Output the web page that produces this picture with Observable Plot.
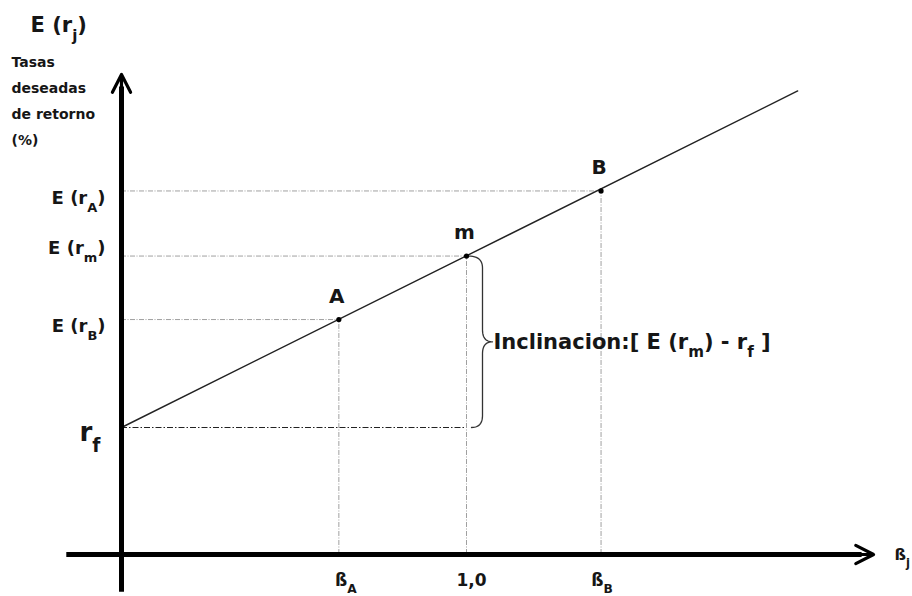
<!DOCTYPE html>
<html><head><meta charset="utf-8">
<script src="https://cdn.jsdelivr.net/npm/d3@7"></script>
<script src="https://cdn.jsdelivr.net/npm/@observablehq/plot@0.6"></script>
<style>
body{margin:0;background:#fff}
svg text{font-family:"DejaVu Sans",sans-serif}
</style>
</head><body><div id="chart"></div>
<script>
// ---- data ----
const riskFree = 4.0;
const marketBeta = 1.0;
const marketReturn = 9.4;
const lineEnd = {beta: 1.96, ret: 14.6};
const pointNames = ["A", "m", "B"];
const pointBetas = [0.63, 1.0, 1.39];
const pointReturns = [7.4, 9.4, 11.45];
const yTickLabels = ["E (r_A)", "E (r_m)", "E (r_B)", "r_f"];
const yTickValues = [11.45, 9.4, 7.4, 4.0];
const xTickLabels = ["ß_A", "1,0", "ß_B"];
const xTickValues = [0.63, 1.0, 1.39];
const xAxisRange = [-0.16, 2.18];
const yAxisRange = [-1.17, 15.12];
const yTitle = "E (r_j)";
const ySubtitle = "Tasas\ndeseadas\nde retorno\n(%)";
const xTitle = "ß_j";
const slopeLabel = "Inclinacion:[ E (r_m) - r_f ]";

// ---- layout ----
const W = 912, H = 596;
const xDomain = [-121 / 345, (W - 121) / 345];
const yDomain = [-(H - 554) / 31.75, 554 / 31.75];
const pxX = (xDomain[1] - xDomain[0]) / W;   // beta per pixel
const pxY = (yDomain[1] - yDomain[0]) / H;   // return per pixel

const points = pointNames.map((n, i) => ({name: n, beta: pointBetas[i], ret: pointReturns[i]}));
const ink = "#161616";

// curly brace between rf and E(rm) at beta = 1, built from data
function quad(p0, c, p1, n = 12) {
  const out = [];
  for (let k = 0; k <= n; k++) {
    const t = k / n;
    out.push([(1 - t) ** 2 * p0[0] + 2 * (1 - t) * t * c[0] + t * t * p1[0],
              (1 - t) ** 2 * p0[1] + 2 * (1 - t) * t * c[1] + t * t * p1[1]]);
  }
  return out;
}
const cx = marketBeta;
const yTop = marketReturn, yBot = riskFree, yMid = (marketReturn + riskFree) / 2;
const bx = d => cx + d * pxX;
const by = (v, d) => v - d * pxY;   // d positive = down in pixels
const brace = [
  ...quad([bx(2), yTop], [bx(16), yTop], [bx(16), by(yTop, 12)]),
  ...quad([bx(16), by(yMid, -12)], [bx(16), yMid], [bx(26), yMid]),
  ...quad([bx(26), yMid], [bx(16), yMid], [bx(16), by(yMid, 12)]),
  ...quad([bx(16), by(yBot, -12)], [bx(16), yBot], [bx(5), yBot])
];

const yNudge = [7.5, -8, 7, 5];
const yLabelDx = [-16, -16, -16, -21];
const yLabelSize = [18, 18, 18, 26];
const xLabelDx = [7, 5, 1];

const marks = [
  // guide lines
  Plot.ruleX(points, {x: "beta", y1: 0, y2: "ret", stroke: "#a0a0a0", strokeWidth: 1, strokeDasharray: "5,1.5,1,1.5"}),
  Plot.ruleY(points, {y: "ret", x1: 0, x2: "beta", stroke: "#a0a0a0", strokeWidth: 1, strokeDasharray: "5,1.5,1,1.5"}),
  Plot.ruleY([riskFree], {y: d => d, x1: 0, x2: marketBeta, stroke: "#222", strokeWidth: 1.2, strokeDasharray: "6,2,1.5,2"}),
  // security market line
  Plot.line([[0, riskFree], [lineEnd.beta, lineEnd.ret]], {x: d => d[0], y: d => d[1], stroke: "#222", strokeWidth: 1.4}),
  // axes
  Plot.link([0], {x1: 0, x2: 0, y1: yAxisRange[0], y2: yAxisRange[1] - 12 * pxY, stroke: "#000", strokeWidth: 5}),
  Plot.link([0], {x1: xAxisRange[0], x2: xAxisRange[1] - 12 * pxX, y1: 0, y2: 0, stroke: "#000", strokeWidth: 5}),
  Plot.arrow([0], {x1: 0, x2: 0, y1: yAxisRange[1] - 60 * pxY, y2: yAxisRange[1], stroke: "#000", strokeWidth: 3.2, headLength: 12, headAngle: 54}),
  Plot.arrow([0], {x1: xAxisRange[1] - 60 * pxX, x2: xAxisRange[1], y1: 0, y2: 0, stroke: "#000", strokeWidth: 3.2, headLength: 12, headAngle: 54}),
  // brace
  Plot.line(brace, {x: d => d[0], y: d => d[1], stroke: "#333", strokeWidth: 1.3}),
  // points
  Plot.dot(points, {x: "beta", y: "ret", r: 2.6, fill: "#000"}),
  Plot.text(points, {x: "beta", y: "ret", text: "name", dy: -23, dx: -2, fontSize: 20, fontWeight: "bold", fill: ink}),
  // y tick labels
  ...yTickLabels.map((t, i) => Plot.text([t], {x: 0, y: [yTickValues[i]], text: d => d, textAnchor: "end",
      dx: yLabelDx[i], dy: yNudge[i], fontSize: yLabelSize[i], fontWeight: "bold", fill: ink})),
  // x tick labels
  ...xTickLabels.map((t, i) => Plot.text([t], {x: [xTickValues[i]], y: 0, text: d => d,
      dx: xLabelDx[i], dy: 26, fontSize: 17, fontWeight: "bold", fill: ink})),
  // axis titles
  Plot.text([xTitle], {x: xAxisRange[1], y: 0, text: d => d, textAnchor: "start", dx: 21, dy: 0, fontSize: 16, fontWeight: "bold", fill: ink}),
  Plot.text([yTitle], {frameAnchor: "top-left", text: d => d, textAnchor: "start", dx: 30, dy: 17, fontSize: 21, fontWeight: "bold", fill: ink}),
  Plot.text([ySubtitle], {frameAnchor: "top-left", text: d => d, textAnchor: "start", lineAnchor: "top", lineHeight: 1.86,
      dx: 11, dy: 48, fontSize: 14, fontWeight: "bold", fill: ink}),
  // slope label
  Plot.text([slopeLabel], {x: marketBeta, y: yMid, text: d => d, textAnchor: "start", dx: 27, dy: 0, fontSize: 21, fontWeight: "bold", fill: ink})
];

const svg = Plot.plot({
  width: W, height: H, margin: 0,
  x: {domain: xDomain, axis: null},
  y: {domain: yDomain, axis: null},
  style: {background: "#fff", overflow: "visible"},
  marks
});

// turn "_X" into real subscript tspans
function applySubscripts(root) {
  const NS = "http://www.w3.org/2000/svg";
  root.querySelectorAll("text").forEach(t => {
    const targets = t.querySelector("tspan") ? Array.from(t.querySelectorAll("tspan")) : [t];
    targets.forEach(n => {
      const s = n.textContent;
      if (!s.includes("_")) return;
      n.textContent = "";
      const re = /_(\w)/g; let last = 0, m;
      while ((m = re.exec(s))) {
        if (m.index > last) n.appendChild(document.createTextNode(s.slice(last, m.index)));
        const sub = document.createElementNS(NS, "tspan");
        sub.setAttribute("baseline-shift", "sub");
        sub.setAttribute("font-size", "72%");
        sub.textContent = m[1];
        n.appendChild(sub);
        last = re.lastIndex;
      }
      if (last < s.length) n.appendChild(document.createTextNode(s.slice(last)));
    });
  });
}
applySubscripts(svg);
document.getElementById("chart").appendChild(svg);
</script>
</body></html>
